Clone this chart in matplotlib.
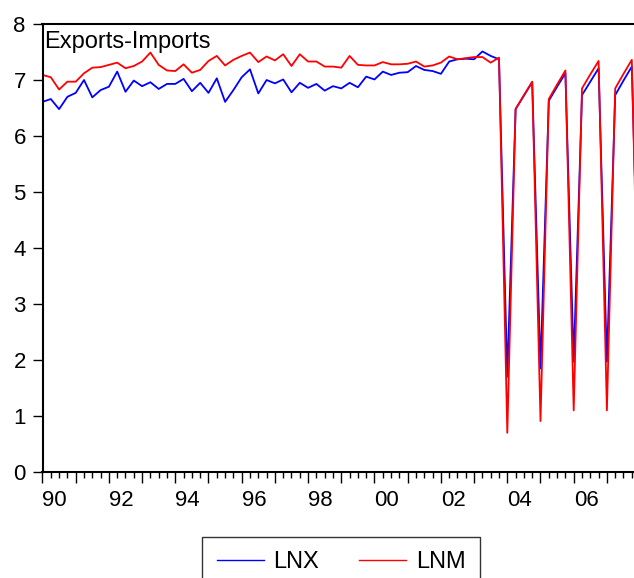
import numpy as np
import matplotlib
matplotlib.use("Agg")
import matplotlib.pyplot as plt

plt.rcParams['font.family'] = ['Liberation Sans', 'DejaVu Sans']

# quarterly data, 1990Q1 onwards
start_year = 1990
lnx = [6.61, 6.66, 6.48, 6.70, 6.77, 7.00, 6.69, 6.82, 6.88, 7.15,
       6.79, 6.99, 6.89, 6.96, 6.84, 6.93, 6.93, 7.02, 6.80, 6.95,
       6.77, 7.03, 6.61, 6.82, 7.05, 7.19, 6.76, 7.00, 6.94, 7.01,
       6.78, 6.95, 6.86, 6.93, 6.81, 6.89, 6.85, 6.95, 6.87, 7.06,
       7.01, 7.15, 7.09, 7.13, 7.14, 7.25, 7.18, 7.16, 7.11, 7.33,
       7.37, 7.38, 7.37, 7.51, 7.43, 7.37, 1.70, 6.48, 6.72, 6.96,
       1.85, 6.63, 6.88, 7.12, 1.97, 6.73, 6.97, 7.21, 1.97, 6.73,
       6.99, 7.24, 1.97]
lnm = [7.09, 7.05, 6.83, 6.97, 6.97, 7.12, 7.22, 7.23, 7.27, 7.31,
       7.21, 7.25, 7.33, 7.49, 7.27, 7.17, 7.16, 7.28, 7.13, 7.18,
       7.34, 7.43, 7.26, 7.36, 7.43, 7.49, 7.32, 7.42, 7.35, 7.46,
       7.25, 7.46, 7.33, 7.33, 7.24, 7.24, 7.22, 7.43, 7.27, 7.26,
       7.26, 7.32, 7.28, 7.28, 7.29, 7.33, 7.24, 7.26, 7.31, 7.42,
       7.37, 7.39, 7.41, 7.41, 7.31, 7.40, 0.70, 6.48, 6.73, 6.97,
       0.91, 6.66, 6.92, 7.17, 1.10, 6.85, 7.10, 7.34, 1.10, 6.85,
       7.11, 7.36, 1.10]
year_labels = ['90', '92', '94', '96', '98', '00', '02', '04', '06']

t = start_year + np.arange(len(lnx)) / 4.0

W, H = 634, 578
fig = plt.figure(figsize=(W / 100, H / 100), dpi=100)
# axes runs past the right edge of the picture (cropped like the original)
x0, x1 = 1990.0, 2008.5
left_px, top_px, bot_px = 42.5, 24, 472
width_px = (x1 - x0) * 33.2
ax = fig.add_axes([left_px / W, 1 - bot_px / H, width_px / W, (bot_px - top_px) / H])

ax.plot(t, lnx, color='#0000ff', lw=1.3, label='LNX')
ax.plot(t, lnm, color='#ff0000', lw=1.3, label='LNM')

ax.set_xlim(x0, x1)
ax.set_ylim(0, 8)
ax.set_yticks(range(0, 9))
ax.tick_params(axis='y', direction='out', length=7, width=1, pad=5, labelsize=16)

years = np.arange(1990, 2009)
ax.set_xticks(years)
labs = []
for y in years:
    i = (y - 1990) // 2
    if (y - 1990) % 2 == 0 and i < len(year_labels):
        labs.append(year_labels[i])
    else:
        labs.append('')
ax.set_xticklabels(labs, ha='left')
ax.set_xticks(np.arange(1990, 2008.5, 0.25), minor=True)
ax.tick_params(axis='x', which='major', direction='out', length=8, width=1, pad=5, labelsize=16)
ax.tick_params(axis='x', which='minor', direction='out', length=4, width=1)

for s in ax.spines.values():
    s.set_linewidth(1.5)

fig.text(44 / W, 1 - 48 / H, 'Exports-Imports', fontsize=17, va='baseline', ha='left')

leg = fig.legend(loc='upper center', bbox_to_anchor=(341 / W, 1 - 537 / H), ncol=2,
                 fontsize=17, frameon=True, fancybox=False, handlelength=2.0,
                 columnspacing=1.7, handletextpad=0.4, borderpad=0.6,
                 borderaxespad=0)
leg.get_frame().set_edgecolor('black')
leg.get_frame().set_linewidth(1.0)
for l in leg.get_lines():
    l.set_linewidth(1.0)

plt.savefig('out.png', dpi=100)
